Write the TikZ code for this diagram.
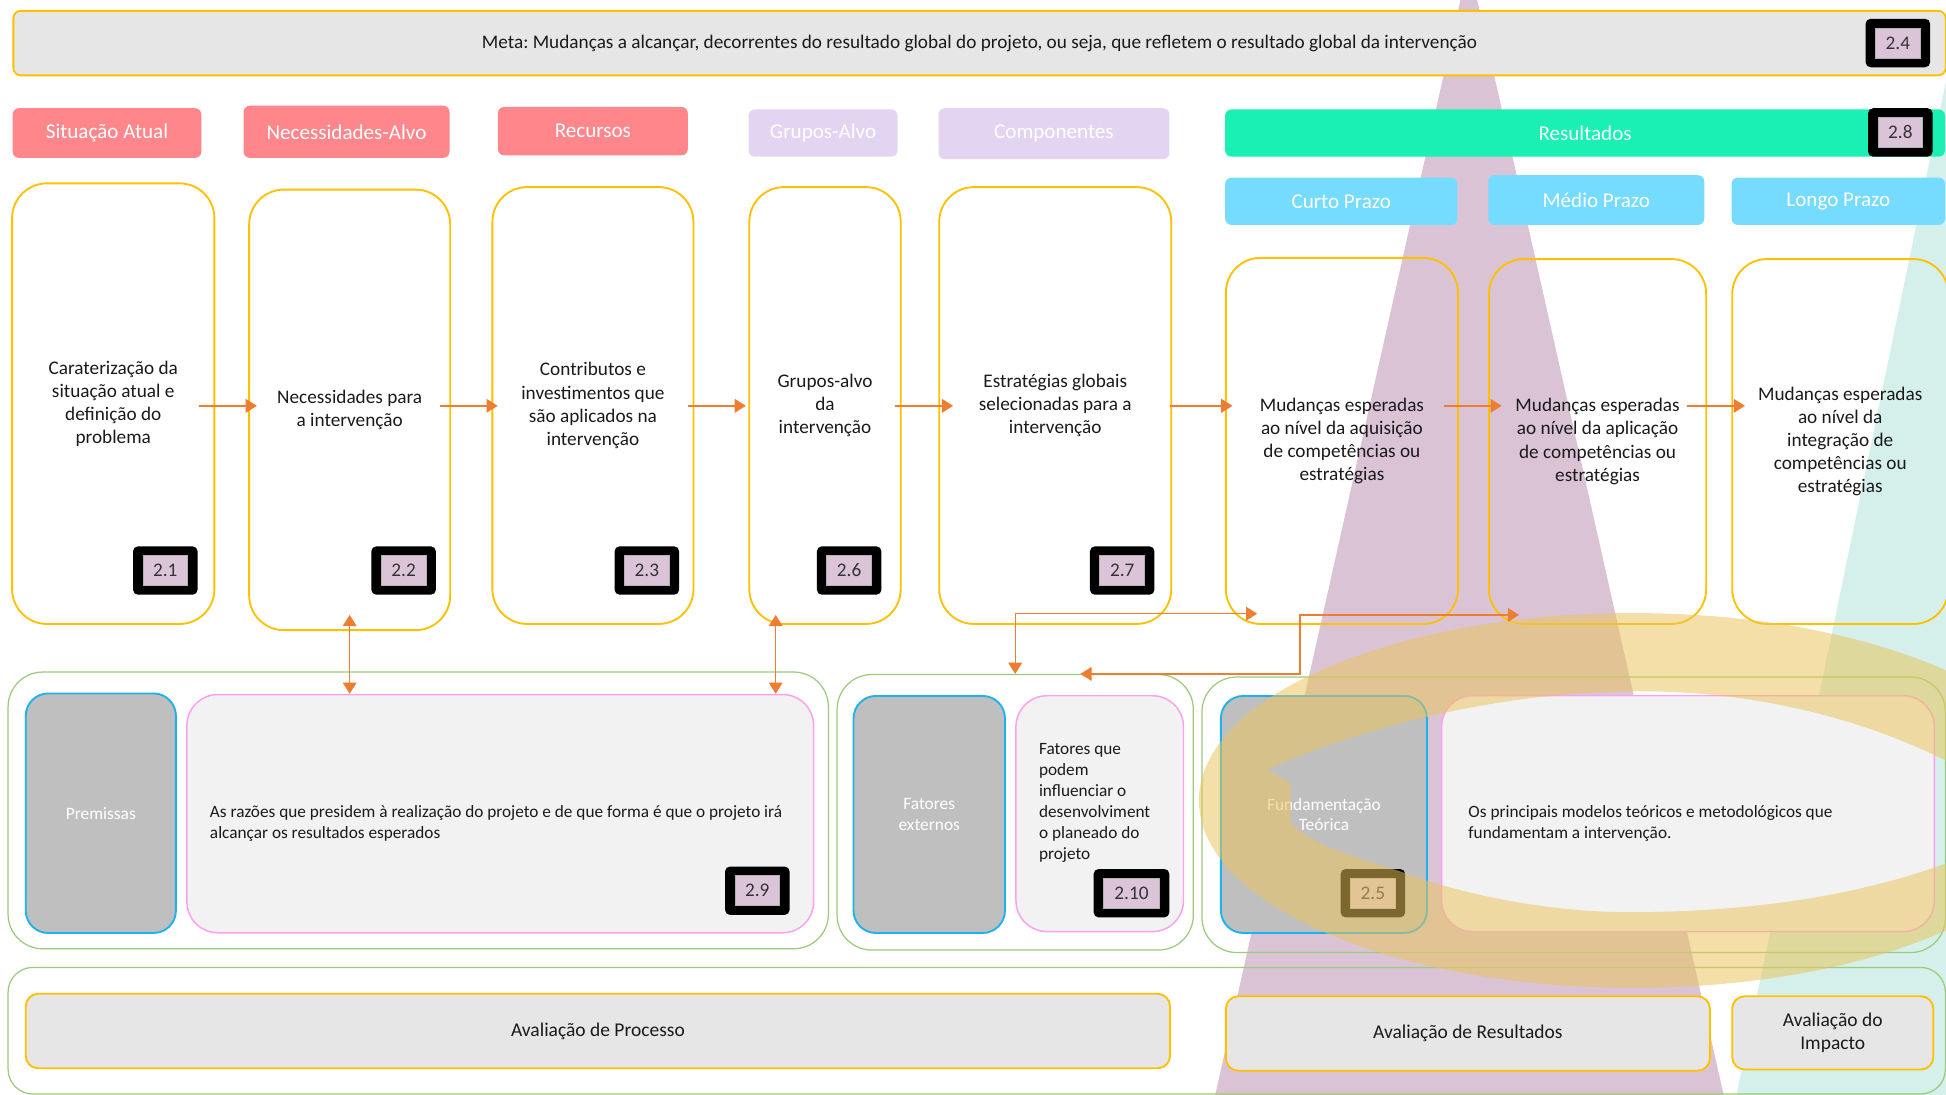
\documentclass[tikz,border=0pt]{standalone}
\usepackage{fontspec}
\setmainfont{Carlito}
\usetikzlibrary{arrows.meta}
\definecolor{gold}{HTML}{FFC000}
\definecolor{metagray}{HTML}{E6E6E6}
\definecolor{hred}{HTML}{FF878C}
\definecolor{hlav}{HTML}{E3D5F2}
\definecolor{hmint}{HTML}{1AF0B4}
\definecolor{hblue}{HTML}{75DBFF}
\definecolor{cgreen}{HTML}{9CCB7C}
\definecolor{gbox}{HTML}{BFBFBF}
\definecolor{bblue}{HTML}{1BB2EE}
\definecolor{tbox}{HTML}{F2F2F2}
\definecolor{tpink}{HTML}{FFA0EE}
\definecolor{bpink}{HTML}{DCC4D8}
\definecolor{orng}{HTML}{ED7D31}
\definecolor{purp}{HTML}{DBC3D6}
\definecolor{tealbg}{HTML}{D5EFEA}
\definecolor{ringc}{HTML}{E9C45A}
\definecolor{txt}{HTML}{1A1A1A}
\frenchspacing
\newcommand{\mybadge}[5]{%
  \node[bdgout, minimum width=#4pt] (#1) at (#2,#3) {};
  \node[bdgin, minimum width=#4pt-16pt] (#1t) at (#1.center) {#5};
}
\begin{document}
\begin{tikzpicture}[x=1pt,y=-1pt,
  box/.style={anchor=north west, inner sep=0pt, align=center},
  metabox/.style={box, fill=metagray, draw=gold, line width=1.5pt, rounded corners=6pt, font=\fontsize{15.5}{18.5}\selectfont, text=txt},
  hdr/.style={box, rounded corners=5pt, text=white, font=\fontsize{17}{20}\selectfont},
  hdrred/.style={hdr, fill=hred},
  hdrlav/.style={hdr, fill=hlav},
  hdrmint/.style={hdr, fill=hmint},
  hdrblue/.style={hdr, fill=hblue},
  bigbox/.style={box, draw=gold, line width=1.5pt, rounded corners=28pt, font=\fontsize{15.5}{18.6}\selectfont, text=txt},
  bdgout/.style={anchor=north west, fill=black, rounded corners=4pt, minimum height=39pt, inner sep=0pt},
  bdgin/.style={fill=bpink, draw=gray!60, line width=0.6pt, minimum height=24pt, inner sep=0pt, font=\fontsize{15.5}{17}\selectfont, text=black!80},
  cont/.style={box, draw=cgreen, line width=1pt, rounded corners=28pt},
  graybox/.style={box, fill=gbox, draw=bblue, line width=1.5pt, rounded corners=18pt, text=white, font=\fontsize{14}{16.8}\selectfont},
  txtbox/.style={box, fill=tbox, draw=tpink, line width=1.2pt, rounded corners=25pt},
  smalltxt/.style={anchor=west, align=left, inner sep=0pt, font=\fontsize{13.9}{16.9}\selectfont, text=txt},
  evalbox/.style={box, fill=metagray, draw=gold, line width=1.5pt, rounded corners=10pt, font=\fontsize{15.7}{18.5}\selectfont, text=txt},
  arr/.style={draw=orng, line width=1.2pt, -{Triangle[length=9pt,width=11pt]}},
  darr/.style={draw=orng, line width=1.1pt, {Triangle[length=9pt,width=11pt]}-{Triangle[length=9pt,width=11pt]}}
]
\clip (0,0) rectangle (1568,882.3);
\fill[white] (0,0) rectangle (1568,882.3);
% background cones
\fill[purp] (1177,-1) -- (1190,-1) -- (1389,883) -- (979,883) -- cycle;
\fill[tealbg] (1581.6,0) -- (1700,0) -- (1700,883) -- (1399,883) -- cycle;

% meta
\node[metabox, minimum width=1557pt, minimum height=52pt] (meta) at (10,8) {Meta: Mudanças a alcançar, decorrentes do resultado global do projeto, ou seja, que refletem o resultado global da intervenção};
\mybadge{b24}{1503}{15}{52}{2.4}

% headers
\node[hdrred, minimum width=152pt, minimum height=40pt] (h1) at (10,87) {Situação Atual};
\node[hdrred, minimum width=166pt, minimum height=42pt] (h2) at (196,85) {Necessidades-Alvo};
\node[hdrred, minimum width=153pt, minimum height=39pt] (h3) at (401,86) {Recursos};
\node[hdrlav, minimum width=120pt, minimum height=38pt] (h4) at (603,88) {Grupos-Alvo};
\node[hdrlav, minimum width=186pt, minimum height=41pt] (h5) at (756,87) {Componentes};
\node[hdrmint, minimum width=580pt, minimum height=38pt] (h6) at (987,88) {Resultados};
\mybadge{b28}{1505}{87}{52}{2.8}
\node[hdrblue, minimum width=187pt, minimum height=38pt] (hC) at (987,143) {Curto Prazo};
\node[hdrblue, minimum width=174pt, minimum height=40pt] (hM) at (1199,141) {Médio Prazo};
\node[hdrblue, minimum width=172pt, minimum height=38pt] (hL) at (1395,143) {Longo Prazo};

% big boxes
\node[bigbox, minimum width=163pt, minimum height=355pt] (b21) at (9,147) {Caraterização da\\situação atual e\\definição do\\problema};
\node[bigbox, minimum width=162pt, minimum height=355pt] (b22) at (200,152) {Necessidades para\\a intervenção};
\node[bigbox, minimum width=162pt, minimum height=352pt] (b23) at (396,150) {Contributos e\\investimentos que\\são aplicados na\\intervenção};
\node[bigbox, minimum width=122pt, minimum height=352pt] (b26) at (603,150) {Grupos-alvo\\da\\intervenção};
\node[bigbox, minimum width=187pt, minimum height=352pt] (b27) at (756,150) {Estratégias globais\\selecionadas para a\\intervenção};
\node[bigbox, minimum width=187pt, minimum height=295pt] (bC) at (987,207) {Mudanças esperadas\\ao nível da aquisição\\de competências ou\\estratégias};
\node[bigbox, minimum width=175pt, minimum height=294pt] (bM) at (1199,208) {Mudanças esperadas\\ao nível da aplicação\\de competências ou\\estratégias};
\node[bigbox, minimum width=174pt, minimum height=294pt] (bL) at (1395,208) {Mudanças esperadas\\ao nível da\\integração de\\competências ou\\estratégias};
\mybadge{b21n}{107}{440}{52}{2.1}
\mybadge{b22n}{299}{440}{52}{2.2}
\mybadge{b23n}{495}{440}{52}{2.3}
\mybadge{b26n}{658}{440}{52}{2.6}
\mybadge{b27n}{878}{440}{52}{2.7}

% bottom containers
\node[cont, minimum width=661pt, minimum height=223pt] (c1) at (6,541) {};
\node[graybox, minimum width=121pt, minimum height=193pt] (p1) at (20,558) {Premissas};
\node[txtbox, minimum width=505pt, minimum height=192pt] (t29) at (150,559) {};
\node[smalltxt] (t29x) at (169,663.5) {As razões que presidem à realização do projeto e de que forma é que o projeto irá\\alcançar os resultados esperados};
\mybadge{b29n}{584}{698}{52}{2.9}

\node[cont, minimum width=287pt, minimum height=222pt] (c2) at (674,543) {};
\node[graybox, minimum width=122pt, minimum height=191pt] (p2) at (687,560) {Fatores\\externos};
\node[txtbox, minimum width=135pt, minimum height=190pt] (t210) at (818,560) {};
\node[smalltxt] (t210x) at (837,647) {Fatores que\\podem\\influenciar o\\desenvolviment\\o planeado do\\projeto};
\mybadge{b210n}{881}{700}{61}{2.10}

\node[cont, minimum width=599pt, minimum height=222pt] (c3) at (968,545) {};
\node[graybox, minimum width=166pt, minimum height=191pt] (p3) at (983,560) {Fundamentação\\Teórica};
\node[txtbox, minimum width=397pt, minimum height=190pt] (t25) at (1161,560) {};
\node[smalltxt] (t25x) at (1183,663.5) {Os principais modelos teóricos e metodológicos que\\fundamentam a intervenção.};
\mybadge{b25n}{1080}{700}{52}{2.5}

% evaluation row
\node[cont, rounded corners=20pt, minimum width=1561pt, minimum height=102pt] (c4) at (6,779) {};
\node[evalbox, minimum width=922pt, minimum height=60pt] (e1) at (20,800) {Avaliação de Processo};
\node[evalbox, minimum width=390pt, minimum height=60pt] (e2) at (987,802) {Avaliação de Resultados};
\node[evalbox, minimum width=162pt, minimum height=59pt] (e3) at (1395,802) {Avaliação do\\Impacto};

% ring overlay
\fill[ringc, opacity=0.53, even odd rule]
  (1316,645) ellipse [x radius=350pt, y radius=151pt]
  (1021,620) .. controls (1100,585) and (1210,557) .. (1322,557)
  .. controls (1450,557) and (1570,600) .. (1640,660)
  .. controls (1560,712) and (1440,735) .. (1313,735)
  .. controls (1240,735) and (1170,718) .. (1128,702)
  .. controls (1090,690) and (1055,680) .. (1040,663)
  -- (1040,631) -- cycle;

% horizontal arrows
\coordinate (ay) at (0,327);
\draw[arr, shorten <=-13pt, shorten >=-7pt] (b21.east |- ay) -- (b22.west |- ay);
\draw[arr, shorten <=-9pt, shorten >=-5pt] (b22.east |- ay) -- (b23.west |- ay);
\draw[arr, shorten <=-5pt, shorten >=2pt] (b23.east |- ay) -- (b26.west |- ay);
\draw[arr, shorten <=-5pt, shorten >=-12pt] (b26.east |- ay) -- (b27.west |- ay);
\draw[arr, shorten <=-2pt, shorten >=-6pt] (b27.east |- ay) -- (bC.west |- ay);
\draw[arr, shorten <=-12pt, shorten >=-11pt] (bC.east |- ay) -- (bM.west |- ay);
\draw[arr, shorten <=-16pt, shorten >=-11pt] (bM.east |- ay) -- (bL.west |- ay);

% vertical double arrows
\coordinate (vx) at (625,0);
\draw[darr, shorten <=-13pt] (b22.south) -- (b22.south |- t29.north);
\draw[darr, shorten <=-8pt] (vx |- b26.south) -- (vx |- t29.north);

% elbow connectors
\draw[darr] (c2.north) |- ([xshift=26pt,yshift=9pt]bC.south west);
\draw[darr] ([xshift=52.5pt]c2.north) -- ++(177pt,0) |- ([xshift=25pt,yshift=8pt]bM.south west);
\end{tikzpicture}
\end{document}
